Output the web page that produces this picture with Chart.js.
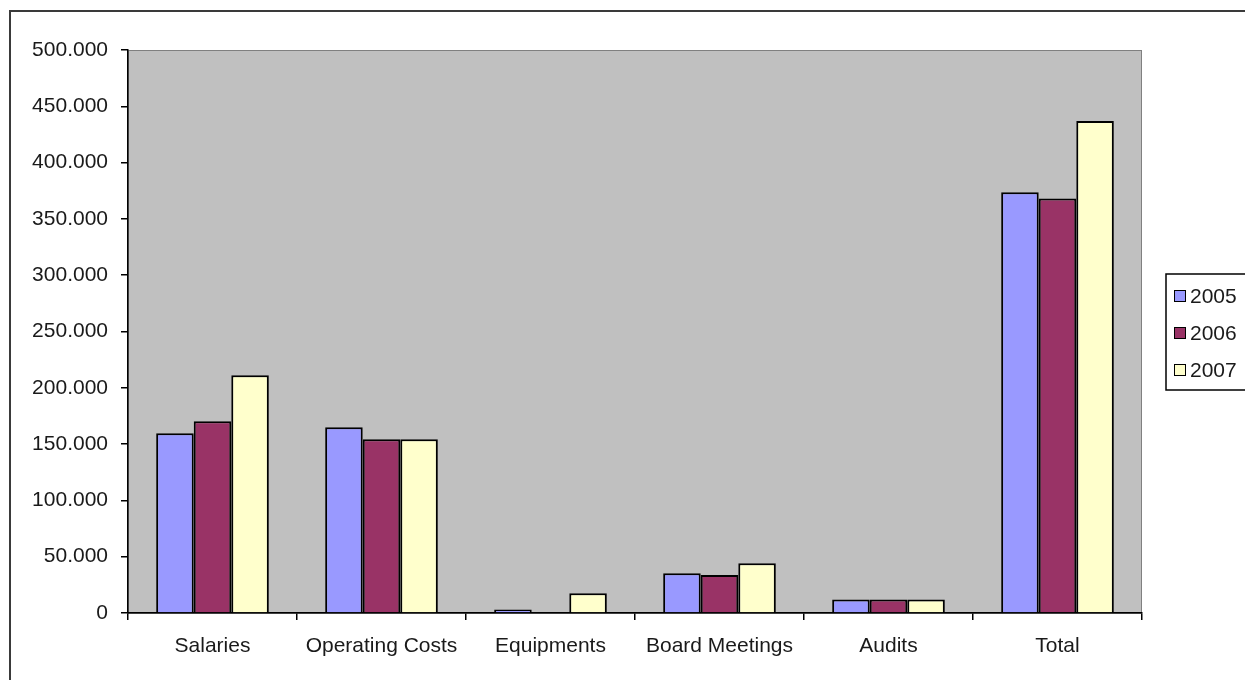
<!DOCTYPE html>
<html>
<head>
<meta charset="utf-8">
<script src="https://cdn.jsdelivr.net/npm/chart.js@4.4.1/dist/chart.umd.min.js"></script>
<style>
html,body{margin:0;padding:0;background:#fff;}
#wrap{width:1245px;height:680px;position:relative;}
</style>
</head>
<body>
<div id="wrap"><canvas id="c" width="1245" height="680"></canvas></div>
<script>
const categories = ["Salaries", "Operating Costs", "Equipments", "Board Meetings", "Audits", "Total"];
const seriesNames = ["2005", "2006", "2007"];
const values2005 = [159700, 165000, 3000, 35300, 11900, 373600];
const values2006 = [170300, 154400, 0, 33800, 11900, 368200];
const values2007 = [211200, 154400, 17500, 44200, 11900, 437000];
const seriesColors = ["#9999FF", "#993366", "#FFFFCC"];
const yTickValues = [0, 50000, 100000, 150000, 200000, 250000, 300000, 350000, 400000, 450000, 500000];

const FONT = "Liberation Sans, Arial, sans-serif";
const FS = 21;
const TEXT = '#1a1a1a';

function fmt(v) {
  return String(Math.round(v)).replace(/\B(?=(\d{3})+(?!\d))/g, ".");
}

const framePlugin = {
  id: 'frame',
  beforeDraw(chart) {
    const ctx = chart.ctx;
    const a = chart.chartArea;
    ctx.save();
    ctx.fillStyle = '#fff';
    ctx.fillRect(0, 0, chart.width, chart.height);
    ctx.strokeStyle = '#3a3a3a';
    ctx.lineWidth = 2;
    ctx.strokeRect(10, 11, chart.width + 20, chart.height + 20);
    ctx.fillStyle = '#C0C0C0';
    ctx.fillRect(a.left, a.top, a.right - a.left, a.bottom - a.top);
    ctx.strokeStyle = '#808080';
    ctx.lineWidth = 1;
    ctx.strokeRect(a.left + 0.5, a.top + 0.5, a.right - a.left - 1, a.bottom - a.top);
    ctx.restore();
  },
  afterDraw(chart) {
    const ctx = chart.ctx;
    ctx.save();
    const lx = 1166, ly = 274, lw = 100, lh = 116;
    ctx.fillStyle = '#fff';
    ctx.fillRect(lx, ly, lw, lh);
    ctx.strokeStyle = '#000';
    ctx.lineWidth = 1.5;
    ctx.strokeRect(lx, ly, lw, lh);
    ctx.font = FS + 'px ' + FONT;
    ctx.textBaseline = 'middle';
    ctx.textAlign = 'left';
    chart.data.datasets.forEach((ds, i) => {
      const cy = 296 + i * 37;
      ctx.fillStyle = ds.backgroundColor;
      ctx.fillRect(1174, cy - 6, 12, 12);
      ctx.strokeStyle = '#000';
      ctx.lineWidth = 1;
      ctx.strokeRect(1174.5, cy - 5.5, 11, 11);
      ctx.fillStyle = TEXT;
      ctx.fillText(ds.label, 1190, cy + 1);
    });
    ctx.restore();
  }
};

const allValues = [values2005, values2006, values2007];

new Chart(document.getElementById('c'), {
  type: 'bar',
  data: {
    labels: categories,
    datasets: seriesNames.map((name, i) => ({
      label: name,
      data: allValues[i],
      backgroundColor: seriesColors[i],
      borderColor: '#000',
      borderWidth: 2,
      borderSkipped: 'bottom',
      categoryPercentage: 3 / 4.5,
      barPercentage: 1.0
    }))
  },
  options: {
    responsive: false,
    animation: false,
    devicePixelRatio: 1,
    layout: { padding: { left: 0, top: 50, right: 103, bottom: 0 } },
    plugins: { legend: { display: false }, tooltip: { enabled: false } },
    scales: {
      x: {
        afterFit(s) { s.height = 67; },
        grid: { display: true, drawOnChartArea: false, drawTicks: true, tickLength: 7, color: '#000', lineWidth: 1.5, offset: true },
        border: { display: true, color: '#000', width: 1.5 },
        ticks: { color: TEXT, font: { family: FONT, size: FS }, padding: 14, maxRotation: 0, autoSkip: false }
      },
      y: {
        min: 0,
        max: 500000,
        afterFit(s) { s.width = 128; },
        afterBuildTicks(s) { s.ticks = yTickValues.map(v => ({ value: v })); },
        grid: { display: true, drawOnChartArea: false, drawTicks: true, tickLength: 7, color: '#000', lineWidth: 1.5 },
        border: { display: true, color: '#000', width: 1.5 },
        ticks: { color: TEXT, font: { family: FONT, size: FS }, padding: 13, callback: v => fmt(v) }
      }
    }
  },
  plugins: [framePlugin]
});
</script>
</body>
</html>
